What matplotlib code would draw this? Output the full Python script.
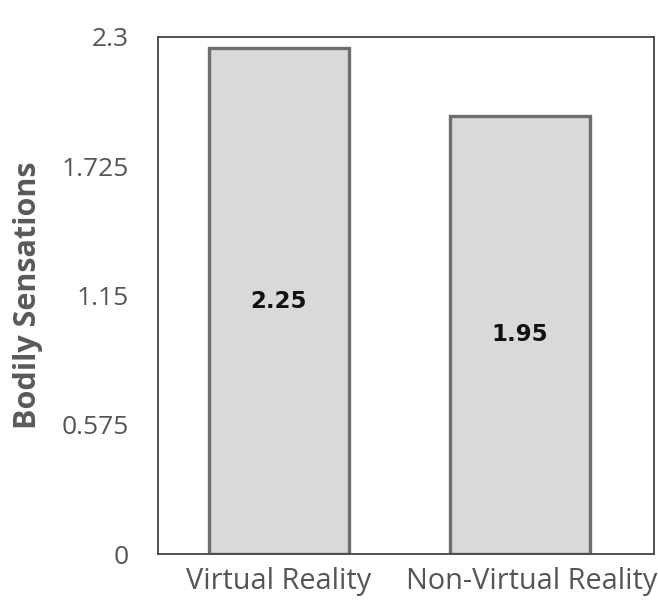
import matplotlib
matplotlib.use("Agg")
import matplotlib.pyplot as plt
from matplotlib.transforms import ScaledTranslation

categories = ["Virtual Reality", "Non-Virtual Reality"]
values = [2.25, 1.95]
yticks = [0, 0.575, 1.15, 1.725, 2.3]
ytick_labels = ["0", "0.575", "1.15", "1.725", "2.3"]

plt.rcParams["font.family"] = ["Open Sans", "DejaVu Sans"]

fig = plt.figure(figsize=(6.58, 6.01), dpi=100)
ax = fig.add_axes([158 / 658, 1 - 554 / 601, (654 - 158) / 658, (554 - 37) / 601])

x = list(range(len(categories)))
bars = ax.bar(x, values, width=0.58, color="#d9d9d9", edgecolor="#6e6e6e", linewidth=2.4, zorder=2)

for xi, v in zip(x, values):
    ax.text(xi, v / 2, f"{v:.2f}", ha="center", va="center", fontsize=16.5,
            fontweight="bold", family="DejaVu Sans", color="#111111")

ax.set_xlim(-0.502, 1.556)
ax.set_ylim(0, 2.3)
ax.set_yticks(yticks)
ax.set_yticklabels(ytick_labels)
ax.set_xticks(x)
ax.set_xticklabels(categories)
ax.tick_params(axis="both", length=0, labelcolor="#555555")
ax.tick_params(axis="y", pad=21, labelsize=19)
ax.tick_params(axis="x", pad=9, labelsize=20.8)

# nudge the long second category label slightly to the right
lbl = ax.get_xticklabels()[1]
lbl.set_transform(lbl.get_transform() + ScaledTranslation(0.12, 0, fig.dpi_scale_trans))

for s in ax.spines.values():
    s.set_color("#444444")
    s.set_linewidth(1.3)

ax.set_ylabel("Bodily Sensations", fontsize=22, fontweight="bold", color="#595959", labelpad=13)

fig.savefig("out.png", dpi=100)
